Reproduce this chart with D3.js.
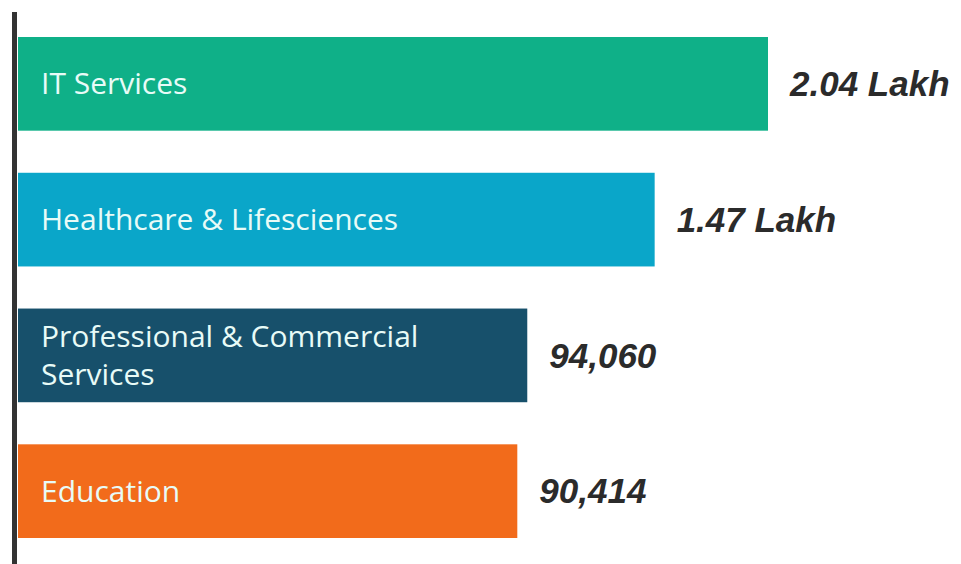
<!DOCTYPE html>
<html>
<head>
<meta charset="utf-8">
<script src="https://cdn.jsdelivr.net/npm/d3@7"></script>
<style>
  body { margin: 0; background: #fff; }
  svg { display: block; }
</style>
</head>
<body>
<script>
// sectors and the value shown next to each bar
var sectors = ['IT Services', 'Healthcare & Lifesciences', 'Professional & Commercial Services', 'Education'];
var labelLines = [['IT Services'], ['Healthcare & Lifesciences'], ['Professional & Commercial', 'Services'], ['Education']];
var jobs = [204000, 147000, 94060, 90414];
var valueLabels = ['2.04 Lakh', '1.47 Lakh', '94,060', '90,414'];
var colors = ['#0fb088', '#0aa6c9', '#17506b', '#f26b1b'];

var width = 961;
var height = 564;
var left = 18;

var svg = d3.select('body')
            .append('svg')
            .attr('width', width)
            .attr('height', height);

// bar lengths in the original are not linear in the values, a sqrt scale is close
var x = d3.scaleSqrt()
          .domain([0, d3.max(jobs)])
          .range([0, 750]);

var y = d3.scaleBand()
          .domain(sectors)
          .range([37, 538])
          .paddingInner(0.31)
          .paddingOuter(0);

var rows = svg.selectAll('.row')
              .data(sectors)
              .enter()
              .append('g')
                .attr('class', 'row');

rows.append('rect')
    .attr('x', left)
    .attr('y', function (d) { return y(d); })
    .attr('width', function (d, i) { return x(jobs[i]); })
    .attr('height', y.bandwidth())
    .attr('fill', function (d, i) { return colors[i]; });

// category names inside the bars
rows.append('text')
    .attr('font-family', 'Open Sans, sans-serif')
    .attr('font-size', 30)
    .attr('fill', '#e8fbf7')
    .each(function (d, i) {
      var lines = labelLines[i];
      var lh = 38;
      var cy = y(d) + y.bandwidth() / 2 - (lines.length - 1) * lh / 2;
      d3.select(this).selectAll('tspan')
        .data(lines)
        .enter()
        .append('tspan')
          .attr('x', 41)
          .attr('y', function (l, j) { return cy + j * lh; })
          .attr('dy', '0.35em')
          .text(function (l) { return l; });
    });

// values to the right of the bars
rows.append('text')
    .attr('x', function (d, i) { return left + x(jobs[i]) + 22; })
    .attr('y', function (d) { return y(d) + y.bandwidth() / 2; })
    .attr('dy', '0.35em')
    .attr('font-family', 'Liberation Sans, Arial, sans-serif')
    .attr('font-weight', 'bold')
    .attr('font-style', 'italic')
    .attr('font-size', 35)
    .attr('fill', '#2b2b2b')
    .text(function (d, i) { return valueLabels[i]; });

// vertical baseline on the left
svg.append('line')
   .attr('x1', 14.5)
   .attr('x2', 14.5)
   .attr('y1', 12)
   .attr('y2', height)
   .attr('stroke', '#333')
   .attr('stroke-width', 5);
</script>
</body>
</html>
